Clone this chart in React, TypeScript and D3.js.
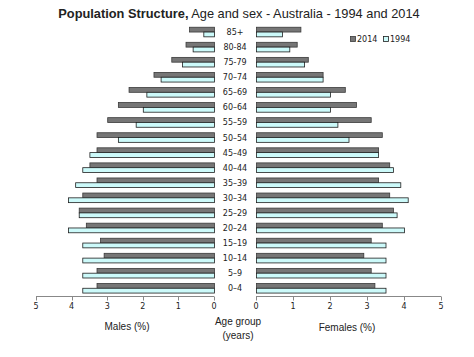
import React from "react";
import * as d3 from "d3";

const ageGroups = ["85+", "80-84", "75-79", "70–74", "65–69", "60–64", "55–59", "50–54", "45–49", "40–44", "35–39", "30–34", "25–29", "20–24", "15–19", "10–14", "5–9", "0–4"];
const male2014 = [0.7, 0.8, 1.2, 1.7, 2.4, 2.7, 3.0, 3.3, 3.3, 3.5, 3.3, 3.7, 3.8, 3.6, 3.2, 3.1, 3.3, 3.3];
const male1994 = [0.3, 0.6, 0.9, 1.5, 1.9, 2.0, 2.2, 2.7, 3.5, 3.7, 3.9, 4.1, 3.8, 4.1, 3.7, 3.7, 3.7, 3.7];
const female2014 = [1.2, 1.1, 1.4, 1.8, 2.4, 2.7, 3.1, 3.4, 3.3, 3.6, 3.3, 3.6, 3.7, 3.4, 3.1, 2.9, 3.1, 3.2];
const female1994 = [0.7, 0.9, 1.3, 1.8, 2.0, 2.0, 2.2, 2.5, 3.3, 3.7, 3.9, 4.1, 3.8, 4.0, 3.5, 3.5, 3.5, 3.5];
const ticks = [0, 1, 2, 3, 4, 5];
const seriesNames = ["2014", "1994"];

const DARK = "#767676";
const DARK_STROKE = "#3a3a3a";
const CYAN = "#ccfafa";
const CYAN_STROKE = "#1e1e1e";

export default function App() {
  const W = 474, H = 357;
  const xL = d3.scaleLinear().domain([0, 5]).range([214, 36]);
  const xR = d3.scaleLinear().domain([0, 5]).range([256, 441]);
  const y = d3.scaleBand<string>().domain(ageGroups).range([24.5, 295.8]).paddingInner(0).paddingOuter(0);
  const bh = 4.8;
  const axisY = 296.5;
  const font = "'DejaVu Sans', Verdana, sans-serif";
  const arial = "'Liberation Sans', Arial, sans-serif";

  const bars = ageGroups.map((g, i) => {
    const c = (y(g) as number) + y.bandwidth() / 2;
    const top = c - bh;
    return (
      <g key={g}>
        <rect x={xL(male2014[i]) + 0.5} y={top} width={xL(0) - xL(male2014[i])} height={bh} fill={DARK} stroke={DARK_STROKE} strokeWidth={0.8} />
        <rect x={xL(male1994[i]) + 0.5} y={top + bh} width={xL(0) - xL(male1994[i])} height={bh} fill={CYAN} stroke={CYAN_STROKE} strokeWidth={0.8} />
        <rect x={xR(0) + 0.5} y={top} width={xR(female2014[i]) - xR(0)} height={bh} fill={DARK} stroke={DARK_STROKE} strokeWidth={0.8} />
        <rect x={xR(0) + 0.5} y={top + bh} width={xR(female1994[i]) - xR(0)} height={bh} fill={CYAN} stroke={CYAN_STROKE} strokeWidth={0.8} />
        <text x={235} y={c + 3} textAnchor="middle" fontFamily={font} fontSize={8} fill="#222">{g}</text>
      </g>
    );
  });

  const axis = (sc: d3.ScaleLinear<number, number>, key: string) => (
    <g key={key}>
      <line x1={sc(0)} x2={sc(5)} y1={axisY} y2={axisY} stroke="#888" strokeWidth={1} />
      {ticks.map(t => (
        <g key={t}>
          <line x1={Math.round(sc(t)) + 0.5} x2={Math.round(sc(t)) + 0.5} y1={axisY} y2={axisY + 4} stroke="#888" />
          <text x={sc(t)} y={axisY + 12} textAnchor="middle" fontFamily={font} fontSize={8} fill="#222">{t}</text>
        </g>
      ))}
    </g>
  );

  return (
    <svg width={W} height={H} style={{ display: "block", position: "absolute", left: 0, top: 0 }}>
      <rect width={W} height={H} fill="#fff" />
      <text x={239} y={18} textAnchor="middle" fontFamily={arial} fontSize={12.8} fill="#222">
        <tspan fontWeight="bold">Population Structure,</tspan>
        <tspan> Age and sex - Australia - 1994 and 2014</tspan>
      </text>
      {bars}
      {axis(xL, "l")}
      {axis(xR, "r")}
      <text x={127} y={330} textAnchor="middle" fontFamily={arial} fontSize={10} fill="#222">Males (%)</text>
      <text x={347} y={331} textAnchor="middle" fontFamily={arial} fontSize={10} fill="#222">Females (%)</text>
      <text x={238} y={325} textAnchor="middle" fontFamily={arial} fontSize={10} fill="#222">Age group</text>
      <text x={238} y={339} textAnchor="middle" fontFamily={arial} fontSize={10} fill="#222">(years)</text>
      <g>
        <rect x={350.5} y={36.5} width={5} height={5} fill={DARK} stroke={DARK_STROKE} strokeWidth={0.8} />
        <text x={357} y={42} fontFamily={font} fontSize={8} fill="#222">{seriesNames[0]}</text>
        <rect x={383.5} y={36.5} width={5} height={5} fill={CYAN} stroke={CYAN_STROKE} strokeWidth={0.8} />
        <text x={390} y={42} fontFamily={font} fontSize={8} fill="#222">{seriesNames[1]}</text>
      </g>
    </svg>
  );
}
